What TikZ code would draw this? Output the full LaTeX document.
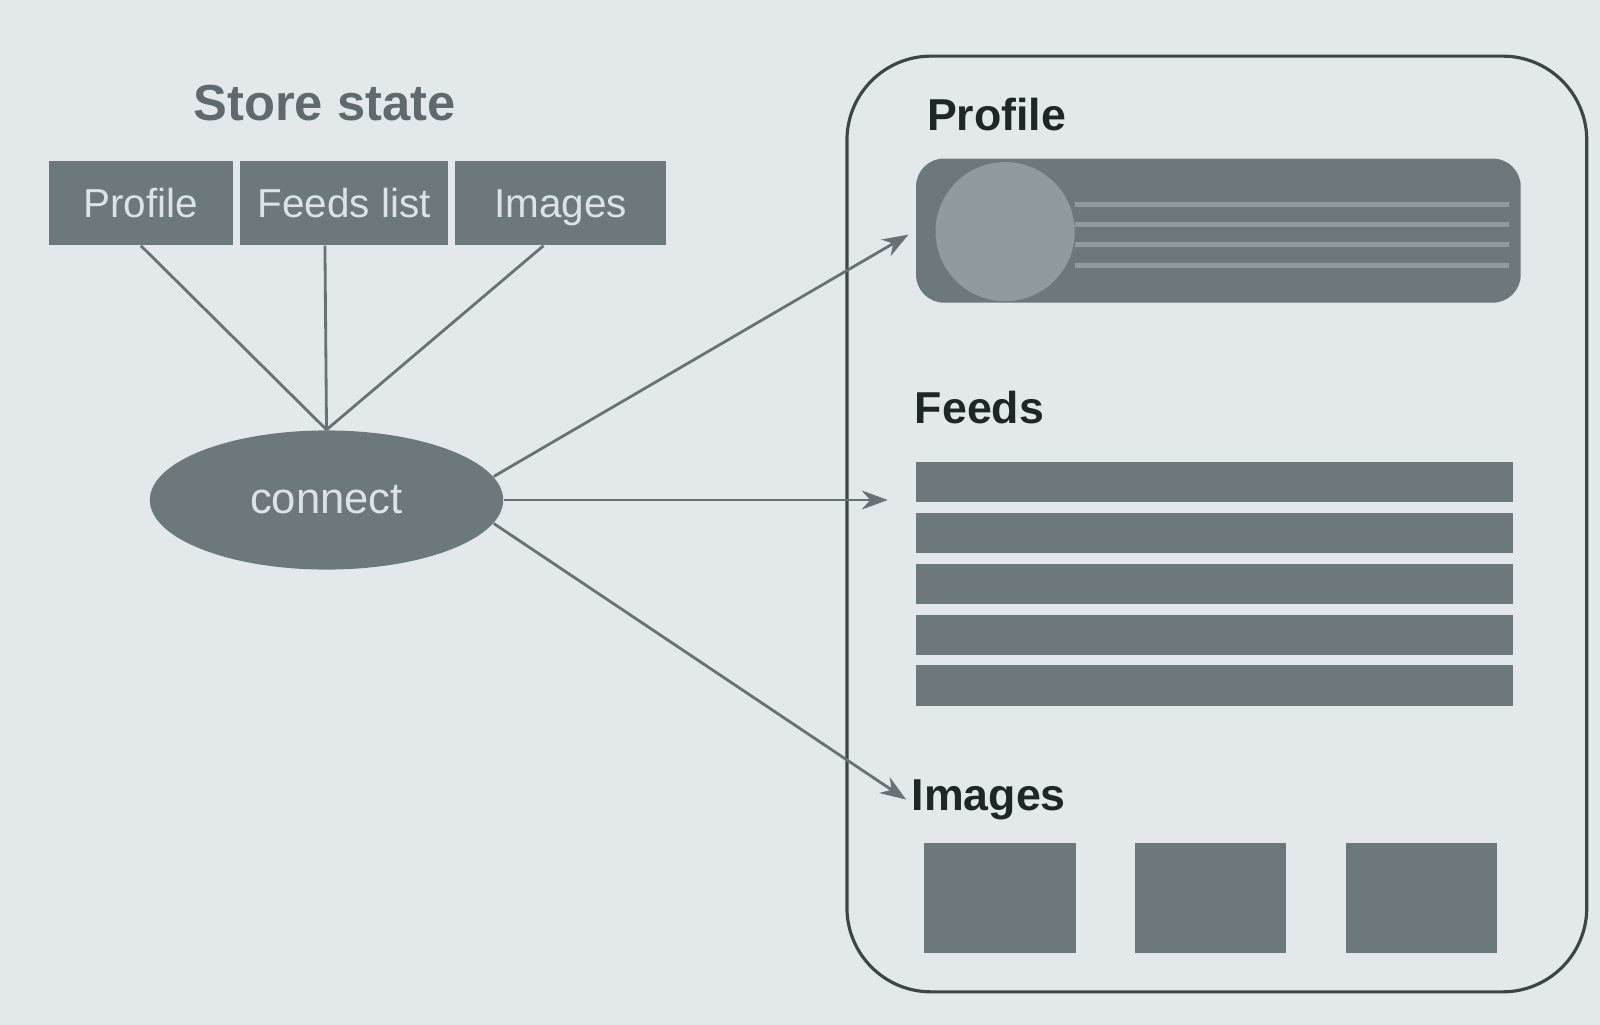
\documentclass[tikz,border=0pt]{standalone}
\usepackage{fontspec}
\setmainfont{Liberation Sans}
\usepackage{tikz}
\usetikzlibrary{positioning,shapes.geometric,arrows.meta}
\definecolor{paper}{HTML}{E3E9EB}
\definecolor{ink}{HTML}{6D787C}
\definecolor{inklight}{HTML}{8F9B9F}
\definecolor{wire}{HTML}{687276}
\definecolor{rim}{HTML}{3C4548}
\definecolor{caption}{HTML}{1F2628}
\definecolor{titlegrey}{HTML}{5F6A6E}
\definecolor{pale}{HTML}{DCE3E6}

\begin{document}
\begin{tikzpicture}[
  x = 0.0102cm,
  y = -0.0102cm,
  slot/.style = {
    rectangle,
    fill = ink,
    text = pale,
    minimum height = 0.836cm,
    text height = 0.85em,
    text depth = 0.05em,
    inner sep = 0pt,
    font = \fontsize{11.5}{13}\selectfont,
  },
  hub/.style = {
    ellipse,
    fill = ink,
    text = pale,
    minimum width = 3.53cm,
    minimum height = 1.39cm,
    inner sep = 0pt,
    font = \fontsize{12.4}{14}\selectfont,
  },
  heading/.style = {
    anchor = base west,
    inner sep = 0.05cm,
    text = caption,
    font = \bfseries\fontsize{12.7}{15}\selectfont,
  },
  bar/.style = {
    rectangle,
    fill = ink,
    minimum width = 5.96cm,
    minimum height = 0.40cm,
    inner sep = 0pt,
  },
  stripe/.style = {
    rectangle,
    fill = inklight,
    minimum width = 4.34cm,
    minimum height = 0.05cm,
    inner sep = 0pt,
  },
  thumb/.style = {
    rectangle,
    fill = ink,
    minimum width = 1.51cm,
    minimum height = 1.10cm,
    inner sep = 0pt,
  },
  wire/.style = {
    draw = wire,
    line width = 0.8pt,
  },
  >={Stealth[length=2.6mm,width=1.9mm]},
]

  \fill[paper] (0,0) rectangle (1568,1004);
  \useasboundingbox (0,0) rectangle (1568,1004);

  % store state
  \node[text=titlegrey,font=\bfseries\fontsize{14.4}{17}\selectfont] (title) at (318,101) {Store state};

  \node[slot,minimum width=1.84cm] (sprofile) at (138,199) {Profile};
  \node[slot,minimum width=2.07cm] (sfeeds) [right=0.06cm of sprofile] {Feeds list};
  \node[slot,minimum width=2.11cm] (simages) [right=0.06cm of sfeeds] {Images};

  \node[hub] (connect) at (320,490) {connect};

  \draw[wire] (sprofile.south) -- (connect.north);
  \draw[wire] ([xshift=-0.19cm]sfeeds.south) -- (connect.north);
  \draw[wire] ([xshift=-0.17cm]simages.south) -- (connect.north);

  % page
  \draw[rim,line width=0.9pt,rounded corners=0.84cm] (830,55) rectangle (1555,972);

  \node[heading] (lprofile) at (903,128) {Profile};
  \node[rectangle,fill=ink,rounded corners=0.28cm,minimum width=6.04cm,minimum height=1.44cm] (profbar) at (1194,226) {};
  \node[stripe] (st0) at (1266,200) {};
  \node[stripe] (st1) at (1266,220) {};
  \node[stripe] (st2) at (1266,240) {};
  \node[stripe] (st3) at (1266,260) {};
  \node[circle,fill=inklight,minimum size=1.39cm,inner sep=0pt] (avatar) at (985,227) {};

  \node[heading] (lfeeds) at (891,415) {Feeds};
  \node[bar] (f0) at (1190,472) {};
  \node[bar] (f1) [below=0.095cm of f0] {};
  \node[bar] (f2) [below=0.095cm of f1] {};
  \node[bar] (f3) [below=0.095cm of f2] {};
  \node[bar] (f4) [below=0.095cm of f3] {};

  \node[heading] (limages) at (888,794) {Images};
  \node[thumb] (i0) at (980,880) {};
  \node[thumb] (i1) [right=0.58cm of i0] {};
  \node[thumb] (i2) [right=0.58cm of i1] {};

  \coordinate (feedin) at (870,490);

  \draw[wire,->,shorten >=0.08cm] (connect.8) -- (profbar.west);
  \draw[wire,->] (connect.east) -- (feedin);
  \draw[wire,->] (connect.-8) -- (limages.west);

\end{tikzpicture}
\end{document}
